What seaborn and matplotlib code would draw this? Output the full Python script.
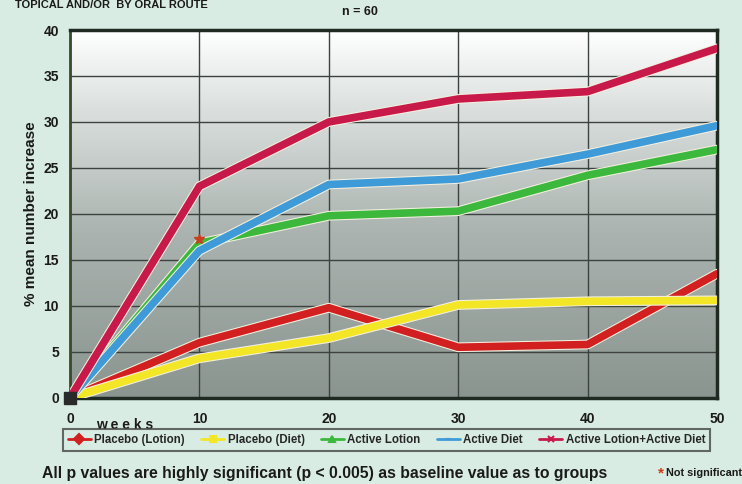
import numpy as np
import pandas as pd
import seaborn as sns
import matplotlib.pyplot as plt
import matplotlib.patheffects as pe
from matplotlib.colors import LinearSegmentedColormap
from matplotlib.lines import Line2D

# Study data: % mean number increase by week
weeks = [0, 10, 20, 30, 40, 50]
placebo_lotion = [0, 6.0, 9.8, 5.5, 5.8, 13.5]
placebo_diet = [0, 4.3, 6.5, 10.1, 10.5, 10.6]
active_lotion = [0, 16.8, 19.8, 20.3, 24.2, 27.0]
active_diet = [0, 16.0, 23.2, 23.8, 26.5, 29.6]
active_both = [0, 23.0, 30.0, 32.5, 33.3, 38.0]

series_names = ["Placebo (Lotion)", "Placebo (Diet)", "Active Lotion",
                "Active Diet", "Active Lotion+Active Diet"]
series_values = [placebo_lotion, placebo_diet, active_lotion, active_diet, active_both]
series_colors = ["#d21f1f", "#f2e626", "#3cb83c", "#3f9bd8", "#c81a4a"]
series_markers = ["D", "s", "^", "_", "x"]

not_significant_week = 10
not_significant_value = 17.3

df = pd.DataFrame({
    "week": weeks * len(series_names),
    "value": [v for vals in series_values for v in vals],
    "group": [n for n in series_names for _ in weeks],
})

sns.set_theme(style="white")
plt.rcParams["font.family"] = ["Liberation Sans", "DejaVu Sans"]

bg = "#d9ece4"
fig = plt.figure(figsize=(7.42, 4.84), dpi=100, facecolor=bg)
ax = fig.add_axes([0.0943, 0.178, 0.872, 0.760])

# gradient plot area
cmap = LinearSegmentedColormap.from_list(
    "area", [(0, "#8b9590"), (0.45, "#aab3af"), (0.8, "#dde2e0"), (1.0, "#ffffff")])
grad = np.linspace(0, 1, 256).reshape(-1, 1)
ax.imshow(grad, extent=[0, 50, 0, 40], origin="lower", aspect="auto",
          cmap=cmap, zorder=0)

sns.lineplot(data=df, x="week", y="value", hue="group", hue_order=series_names,
             palette=series_colors, linewidth=5.5, legend=False, ax=ax, zorder=3)
for line in ax.get_lines():
    line.set_path_effects([pe.Stroke(linewidth=7, foreground="#f4f0e0"), pe.Normal()])
    line.set_solid_joinstyle("round")

ax.plot([not_significant_week], [not_significant_value], marker="*", color="#c8401e",
        markersize=7, linestyle="none", zorder=5)
ax.plot([0], [0], marker="s", color="#2a2a2a", markersize=8, zorder=6, clip_on=False)

ax.set_xlim(0, 50)
ax.set_ylim(0, 40)
ax.set_xticks([0, 10, 20, 30, 40, 50])
ax.set_yticks(range(0, 41, 5))
ax.grid(True, color="#3c423f", linewidth=1.0)
for gl in ax.get_xgridlines() + ax.get_ygridlines():
    gl.set_zorder(1)
for s in ax.spines.values():
    s.set_color("#1e2a22")
    s.set_linewidth(2.5)
ax.spines["left"].set_color("#3a4a2a")
ax.spines["left"].set_linewidth(2)

ax.tick_params(axis="both", length=0, labelsize=10, colors="#1a1a1a")
ax.tick_params(axis="x", pad=10)
ax.tick_params(axis="y", pad=8)
for t in ax.get_xticklabels() + ax.get_yticklabels():
    t.set_fontweight("bold")
ax.set_xlabel("")
ax.set_ylabel("% mean number increase", fontsize=11, fontweight="bold",
              color="#1a1a1a", labelpad=4)

fig.text(0.02, 1.0, "TOPICAL AND/OR  BY ORAL ROUTE", fontsize=8, fontweight="bold",
         color="#1a1a1a", va="top", ha="left")
fig.text(0.485, 0.975, "n = 60", fontsize=9, fontweight="bold", color="#1a1a1a",
         ha="center", va="center")
fig.text(0.168, 0.122, "w e e k s", fontsize=10, fontweight="bold", color="#1a1a1a",
         ha="center", va="center")

handles = [Line2D([0], [0], color=c, marker=m, linewidth=2, markersize=5,
                  markeredgewidth=1.5)
           for c, m in zip(series_colors, series_markers)]
leg = fig.legend(handles, series_names, loc="center", bbox_to_anchor=(0.521, 0.091),
                 ncol=5, frameon=True, fontsize=8.3, handlelength=2.0,
                 columnspacing=1.4, handletextpad=0.3, borderpad=0.4,
                 facecolor=bg, edgecolor="#444444", fancybox=False)
leg.get_frame().set_linewidth(1.5)
for t in leg.get_texts():
    t.set_fontweight("bold")

fig.text(0.057, 0.022,
         "All p values are highly significant (p < 0.005) as baseline value as to groups",
         fontsize=11.3, fontweight="bold", color="#1a1a1a", ha="left", va="center")
fig.text(0.887, 0.022, "*", fontsize=11, fontweight="bold", color="#d23a1a",
         ha="left", va="center")
fig.text(0.897, 0.022, "Not significant", fontsize=7.8, fontweight="bold",
         color="#1a1a1a", ha="left", va="center")

fig.savefig("out.png", dpi=100, facecolor=bg)
